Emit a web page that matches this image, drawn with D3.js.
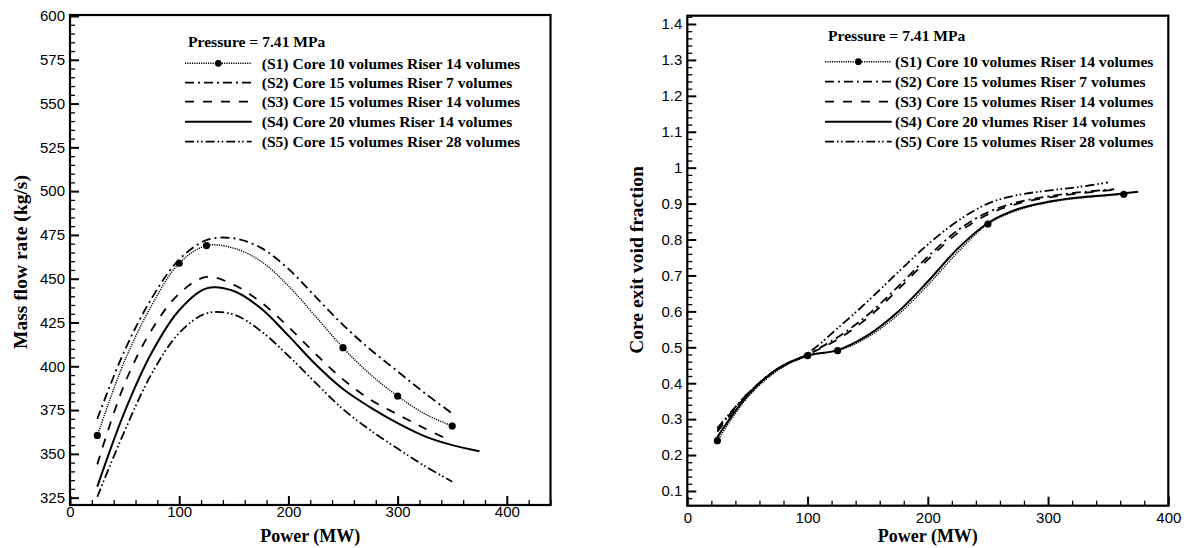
<!DOCTYPE html>
<html><head><meta charset="utf-8">
<script src="https://cdn.jsdelivr.net/npm/d3@7"></script>
<style>
body{margin:0;background:#fff}
svg{display:block}
.tick text{font-family:"Liberation Sans",Arial,sans-serif;font-size:15px;fill:#000}
.lbl{font-family:"Liberation Serif","Times New Roman",serif;font-weight:bold;fill:#000}
</style></head><body>
<svg id="chart" width="1194" height="548"></svg>
<script>
// ---------- shared labels ----------
const legendTitle = "Pressure = 7.41 MPa";
const seriesLabels = [
  "(S1) Core 10 volumes Riser 14 volumes",
  "(S2) Core 15 volumes Riser 7 volumes",
  "(S3) Core 15 volumes Riser 14 volumes",
  "(S4) Core 20 vlumes Riser 14 volumes",
  "(S5) Core 15 volumes Riser 28 volumes"
];
const xTitle = "Power (MW)";
const leftYTitle = "Mass flow rate (kg/s)";
const rightYTitle = "Core exit void fraction";

// ---------- tick labels ----------
const leftXTicks = [0,100,200,300,400];
const leftYTicks = [325,350,375,400,425,450,475,500,525,550,575,600];
const rightXTicks = [0,100,200,300,400];
const rightYTicks = [0.1,0.2,0.3,0.4,0.5,0.6,0.7,0.8,0.9,1.0,1.1,1.2,1.3,1.4];

// ---------- left chart: mass flow rate (kg/s) vs power (MW) ----------
const flowS1Power = [25,50,75,100,125,150,175,200,225,250,275,300,325,350];
const flowS1 = [360.5,403,435,458.8,468.9,467.4,459.9,445.9,428.4,410.6,395.4,383,372.8,365.9];
const flowS1Markers = [25,100,125,250,300,350];
const flowS2Power = [25,50,75,100,125,150,175,200,225,250,275,300,325,350];
const flowS2 = [370,409,439,461,472,473.1,467.6,455.6,439.6,423.6,409.6,397.1,384.6,373.1];
const flowS3Power = [25,50,75,100,125,150,175,200,225,250,275,300,325,347];
const flowS3 = [344,390,421,441.5,451,446.5,436.5,422.5,407,392.5,381,372.5,364.5,358];
const flowS4Power = [25,50,75,100,125,150,175,200,225,250,275,300,325,350,375];
const flowS4 = [331.3,374,408,432,444.5,443,433,417.5,401,387,376.5,367.5,360,355,351.5];
const flowS5Power = [25,50,75,100,125,150,175,200,225,250,275,300,325,350];
const flowS5 = [325.5,363,396,419,430.2,429.5,420,406,390.5,375.5,363.5,353,343,334.1];

// ---------- right chart: core exit void fraction vs power (MW) ----------
const voidS1Power = [25,50,75,100,125,150,175,200,225,250,275,300,325,363];
const voidS1 = [0.24,0.36,0.435,0.4767,0.4906,0.528,0.59,0.673,0.765,0.843,0.882,0.903,0.915,0.926];
const voidS1Markers = [25,100,125,250,363];
const voidS2Power = [25,50,75,100,125,150,175,200,225,250,275,300,325,355];
const voidS2 = [0.27,0.37,0.44,0.48,0.528,0.59,0.668,0.752,0.826,0.876,0.904,0.92,0.931,0.94];
const voidS3Power = [25,50,75,100,125,150,175,200,225,250,275,300,325,360];
const voidS3 = [0.265,0.368,0.438,0.479,0.522,0.582,0.66,0.744,0.818,0.87,0.9,0.917,0.928,0.94];
const voidS4Power = [25,50,75,100,125,150,175,200,225,250,275,300,325,350,375];
const voidS4 = [0.25,0.365,0.44,0.477,0.492,0.533,0.598,0.683,0.775,0.846,0.885,0.905,0.917,0.924,0.933];
const voidS5Power = [25,50,75,100,125,150,175,200,225,250,275,300,325,350];
const voidS5 = [0.275,0.37,0.44,0.483,0.553,0.628,0.708,0.786,0.852,0.9,0.924,0.936,0.946,0.959];

// ---------- styles ----------
const lineStyles = [
  {w:1.4, dash:"1.2,1.1"},
  {w:1.8, dash:"9,4,2,4"},
  {w:1.8, dash:"9,9"},
  {w:2.0, dash:null},
  {w:1.8, dash:"9,3,1.6,2.4,1.6,3"}
];

const svg = d3.select("#chart");
const zip = (xs, ys) => xs.map((x,i)=>[x, ys[i]]);

function panel(o){
  const g = svg.append("g");
  const x = d3.scaleLinear().domain(o.xDomain).range([o.left, o.right]);
  const y = d3.scaleLinear().domain(o.yDomain).range([o.bottom, o.top]);

  // minor ticks
  g.append("g").attr("transform",`translate(0,${o.bottom})`)
    .call(d3.axisBottom(x).tickValues(o.xMinor).tickSize(-5).tickFormat(""))
    .call(s=>{s.select(".domain").remove(); s.selectAll("line").attr("stroke","#000").attr("stroke-width",1.3);});
  g.append("g").attr("transform",`translate(${o.left},0)`)
    .call(d3.axisLeft(y).tickValues(o.yMinor).tickSize(-5).tickFormat(""))
    .call(s=>{s.select(".domain").remove(); s.selectAll("line").attr("stroke","#000").attr("stroke-width",1.3);});
  // major ticks
  g.append("g").attr("transform",`translate(0,${o.bottom})`)
    .call(d3.axisBottom(x).tickValues(o.xTicks).tickSize(-9).tickPadding(o.xPad).tickFormat(d=>String(d)))
    .call(s=>{s.select(".domain").remove(); s.selectAll("line").attr("stroke","#000").attr("stroke-width",2);});
  g.append("g").attr("transform",`translate(${o.left},0)`)
    .call(d3.axisLeft(y).tickValues(o.yTicks).tickSize(-9).tickPadding(5).tickFormat(o.yFmt))
    .call(s=>{s.select(".domain").remove(); s.selectAll("line").attr("stroke","#000").attr("stroke-width",2);});

  // frame
  g.append("rect").attr("x",o.left).attr("y",o.top)
    .attr("width",o.right-o.left).attr("height",o.bottom-o.top)
    .attr("fill","none").attr("stroke","#000").attr("stroke-width",2.2);

  // curves
  const line = d3.line().x(d=>x(d[0])).y(d=>y(d[1])).curve(d3.curveCatmullRom.alpha(0.5));
  o.series.forEach((s,i)=>{
    const st = lineStyles[i];
    g.append("path").datum(s.pts).attr("d",line)
      .attr("fill","none").attr("stroke","#000").attr("stroke-width",st.w)
      .attr("stroke-dasharray",st.dash).attr("stroke-linecap","butt");
  });
  // S1 markers
  const s1 = o.series[0];
  g.selectAll("circle.mk").data(s1.pts.filter(p=>o.markers.includes(p[0])))
    .join("circle").attr("class","mk")
    .attr("cx",d=>x(d[0])).attr("cy",d=>y(d[1])).attr("r",3.6).attr("fill","#000");

  // axis titles
  g.append("text").attr("class","lbl").attr("x",(o.left+o.right)/2).attr("y",541.5)
    .attr("text-anchor","middle").style("font-size","18px").text(xTitle);
  g.append("text").attr("class","lbl")
    .attr("transform",`translate(${o.yTitleX},${o.yTitleY}) rotate(-90)`)
    .attr("text-anchor","middle").style("font-size","19.5px").text(o.yTitle);

  // legend
  const L = o.legend;
  g.append("text").attr("class","lbl").attr("x",L.titleX).attr("y",L.titleY+5.5)
    .style("font-size","15.6px").text(legendTitle);
  seriesLabels.forEach((lab,i)=>{
    const yy = L.rows[i];
    const st = lineStyles[i];
    g.append("line").attr("x1",L.x1).attr("x2",L.x2).attr("y1",yy).attr("y2",yy)
      .attr("stroke","#000").attr("stroke-width",st.w).attr("stroke-dasharray",st.dash);
    if(i===0){
      g.append("circle").attr("cx",(L.x1+L.x2)/2).attr("cy",yy).attr("r",3.4).attr("fill","#000");
    }
    g.append("text").attr("class","lbl").attr("x",L.tx).attr("y",yy+5.5)
      .style("font-size","15.6px").text(lab);
  });
}

const range = (a,b,s)=>{const r=[];for(let v=a;v<=b+1e-9;v+=s)r.push(+v.toFixed(4));return r;};

panel({
  left:70, right:550.5, top:15, bottom:505,
  xDomain:[0,440], yDomain:[320.8,600.57],
  xTicks:leftXTicks, yTicks:leftYTicks,
  xMinor:range(20,440,20).filter(v=>v%100!==0),
  yMinor:range(325,600,5).filter(v=>v%25!==0),
  xPad:1, yFmt:d=>String(d),
  yTitle:leftYTitle, yTitleX:27, yTitleY:262,
  series:[
    {pts:zip(flowS1Power,flowS1)},
    {pts:zip(flowS2Power,flowS2)},
    {pts:zip(flowS3Power,flowS3)},
    {pts:zip(flowS4Power,flowS4)},
    {pts:zip(flowS5Power,flowS5)}
  ],
  markers:flowS1Markers,
  legend:{titleX:188, titleY:41.7, x1:185, x2:251.7, tx:261.7, rows:[63.3,82.7,101.7,121.7,141.7]}
});

panel({
  left:687.3, right:1168.3, top:15.7, bottom:505.7,
  xDomain:[0,400], yDomain:[0.059,1.4231],
  xTicks:rightXTicks, yTicks:rightYTicks,
  xMinor:range(20,400,20).filter(v=>v%100!==0),
  yMinor:range(0.06,1.42,0.02).filter(v=>Math.abs(Math.round(v*10)-v*10)>1e-6),
  xPad:7, yFmt:d=>String(+d.toFixed(1)),
  yTitle:rightYTitle, yTitleX:643, yTitleY:260,
  series:[
    {pts:zip(voidS1Power,voidS1)},
    {pts:zip(voidS2Power,voidS2)},
    {pts:zip(voidS3Power,voidS3)},
    {pts:zip(voidS4Power,voidS4)},
    {pts:zip(voidS5Power,voidS5)}
  ],
  markers:voidS1Markers,
  legend:{titleX:828, titleY:35, x1:825, x2:891.7, tx:895, rows:[61.7,81.7,101.7,121.7,141.7]}
});
</script>
</body></html>
